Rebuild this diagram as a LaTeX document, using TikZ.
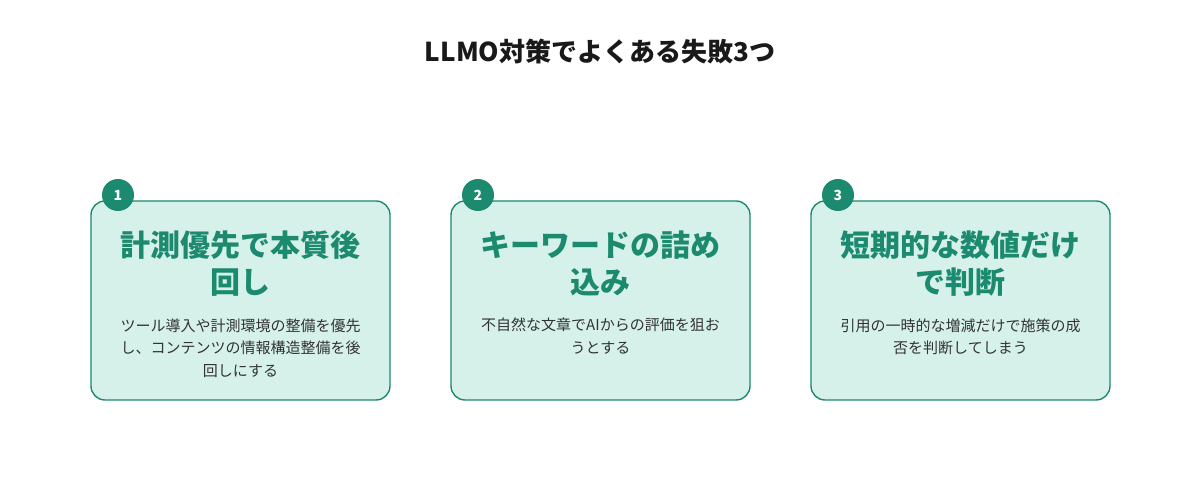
\documentclass[tikz,border=0pt]{standalone}
\usepackage{fontspec}
\setmainfont{Noto Sans CJK JP}
\usepackage{tikz}
\usetikzlibrary{positioning}
\definecolor{tealgreen}{HTML}{1C8A6E}
\definecolor{mintbg}{HTML}{D6F1EA}
\definecolor{bodygray}{HTML}{333333}
\newcommand{\headfont}{\fontsize{30pt}{37pt}\selectfont\bfseries}
\newcommand{\bodyfont}{\fontsize{15pt}{22.5pt}\selectfont}

\begin{document}
\begin{tikzpicture}[x=1pt,y=1pt,
		card/.style={rectangle,rounded corners=14pt,draw=tealgreen,line width=1.4pt,fill=mintbg,minimum width=299pt,minimum height=199pt,inner sep=0pt},
		badge/.style={circle,fill=tealgreen,text=white,minimum size=32pt,inner sep=0pt,font=\fontsize{14pt}{14pt}\selectfont\bfseries},
		head/.style={align=center,text=tealgreen,font=\headfont,inner sep=0pt,anchor=north},
		body/.style={align=center,text=bodygray,font=\bodyfont,inner sep=0pt,anchor=north}]
		\useasboundingbox (0,0) rectangle (1200,500);
		\node[font=\fontsize{26pt}{30pt}\selectfont\bfseries,text=black!90] (title) at (600,448) {LLMO対策でよくある失敗3つ};
		
		\node[card] (c1) at (240.5,199.5) {};
		\node[card] (c2) at (600.5,199.5) {};
		\node[card] (c3) at (960.5,199.5) {};
		
		\node[badge] (b1) at (118,305) {1};
		\node[badge] (b2) at (478,305) {2};
		\node[badge] (b3) at (838,305) {3};
		
		\node[head] (h1) [below=30pt of c1.north] {計測優先で本質後\\回し};
		\node[head] (h2) [below=30pt of c2.north] {キーワードの詰め\\込み};
		\node[head] (h3) [below=30pt of c3.north] {短期的な数値だけ\\で判断};
		
		\node[body] (t1) [below=22pt of h1.south] {ツール導入や計測環境の整備を優先\\し、コンテンツの情報構造整備を後\\回しにする};
		\node[body] (t2) [below=22pt of h2.south] {不自然な文章でAIからの評価を狙お\\うとする};
		\node[body] (t3) [below=22pt of h3.south] {引用の一時的な増減だけで施策の成\\否を判断してしまう};
\end{tikzpicture}
\end{document}
